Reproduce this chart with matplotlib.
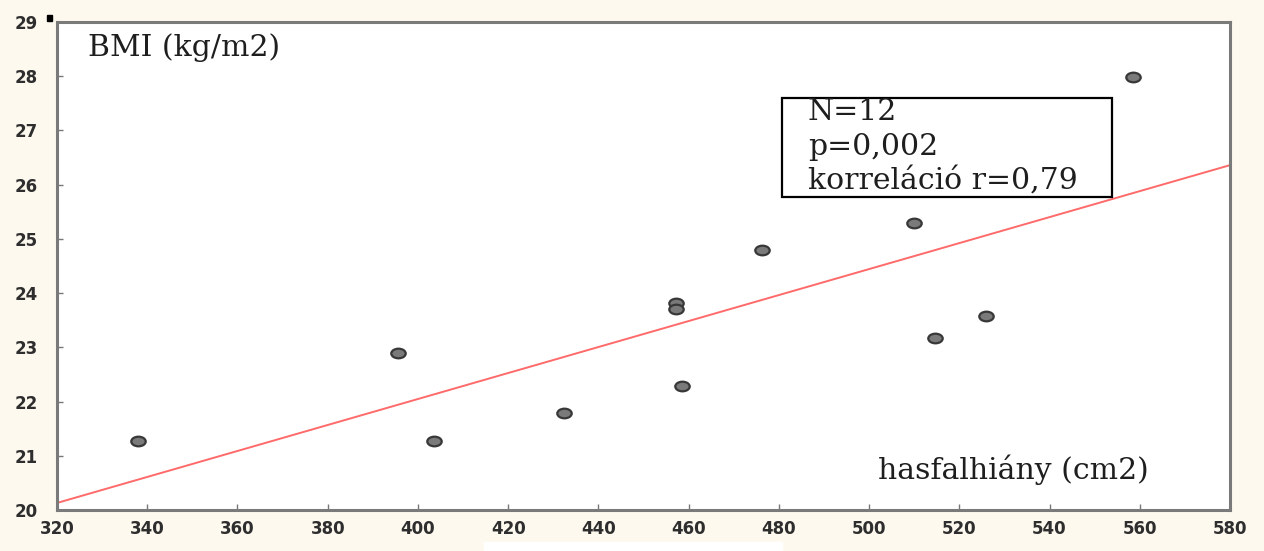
import matplotlib
matplotlib.use('Agg')
import matplotlib.pyplot as plt
from matplotlib.markers import MarkerStyle
from matplotlib.patches import Rectangle
from matplotlib.transforms import Affine2D

# hasfalhiány (cm2) vs BMI (kg/m2)
hasfal = [338.0, 395.6, 403.6, 432.4, 457.3, 457.3, 458.6, 476.3, 510.0, 514.7, 526.0, 558.4]
bmi = [21.27, 22.90, 21.27, 21.79, 23.81, 23.70, 22.29, 24.79, 25.29, 23.17, 23.58, 27.99]

# regression line end points
line_x = [320, 580]
line_y = [20.13, 26.36]

x_ticks = list(range(320, 581, 20))
y_ticks = list(range(20, 30))

stats_lines = ['N=12', 'p=0,002', 'korreláció r=0,79']

BG = '#FEF9EE'
SERIF = ['DejaVu Serif']

fig = plt.figure(figsize=(12.64, 5.51), dpi=100, facecolor=BG)
ax = fig.add_axes([57 / 1264, 41 / 551, 1173 / 1264, 488 / 551])
ax.set_facecolor('white')

ax.plot(line_x, line_y, color='#FF6A6A', linewidth=1.4, zorder=2)

ell = MarkerStyle('o', transform=Affine2D().scale(1.5, 1.0))
ax.scatter(hasfal, bmi, marker=ell, s=48, facecolor='#7A7A7A',
           edgecolor='#383838', linewidths=1.6, zorder=3)

ax.set_xlim(320, 580)
ax.set_ylim(20, 29)
ax.set_xticks(x_ticks)
ax.set_yticks(y_ticks)
ax.tick_params(direction='in', length=4, width=1, color='#777777',
               labelsize=12, labelcolor='#2E2E2E')
ax.tick_params(axis='x', pad=7)
ax.tick_params(axis='y', pad=14)
for lab in ax.get_xticklabels() + ax.get_yticklabels():
    lab.set_fontweight('bold')
for sp in ax.spines.values():
    sp.set_color('#7A7A7A')
    sp.set_linewidth(2.2)

ax.text(0.0264, 0.947, 'BMI (kg/m2)', transform=ax.transAxes, ha='left', va='center',
        fontsize=21.5, family=SERIF, color='#1E1E1E')
ax.text(0.700, 0.082, 'hasfalhiány (cm2)', transform=ax.transAxes, ha='left', va='center',
        fontsize=21.5, family=SERIF, color='#1E1E1E')

# statistics box
ax.add_patch(Rectangle((0.618, 0.641), 0.281, 0.203, transform=ax.transAxes,
                       facecolor='white', edgecolor='black', linewidth=1.6, zorder=4))
for yy, s in zip([0.816, 0.744, 0.676], stats_lines):
    ax.text(0.640, yy, s, transform=ax.transAxes, ha='left', va='center',
            fontsize=21.5, family=SERIF, color='#1E1E1E', zorder=5)

# small artefacts of the original picture
fig.patches.append(Rectangle((47 / 1264, 1 - 21 / 551), 5 / 1264, 6 / 551,
                             transform=fig.transFigure, color='black'))
fig.patches.append(Rectangle((484 / 1264, 0), 298 / 1264, 9 / 551,
                             transform=fig.transFigure, color='white'))

plt.savefig('out.png', dpi=100, facecolor=BG)
